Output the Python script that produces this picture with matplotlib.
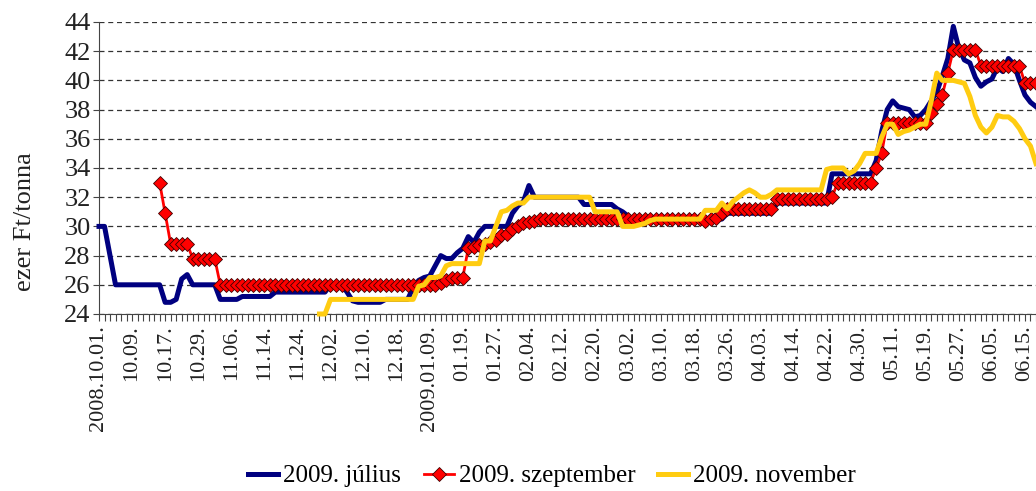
import numpy as np
import matplotlib
matplotlib.use('Agg')
import matplotlib.pyplot as plt

nan = np.nan

# =============================================================================
# Data (ezer Ft/tonna), one value per trading day from 2008.10.01.
# =============================================================================
tickLabels = ['2008.10.01.', '10.09.', '10.17.', '10.29.', '11.06.', '11.14.', '11.24.',
              '12.02.', '12.10.', '12.18.', '2009.01.09.', '01.19.', '01.27.', '02.04.',
              '02.12.', '02.20.', '03.02.', '03.10.', '03.18.', '03.26.', '04.03.',
              '04.14.', '04.22.', '04.30.', '05.11.', '05.19.', '05.27.', '06.05.', '06.15.']

julius = [30.0, 30.0, 28.0, 26.0, 26.0, 26.0, 26.0, 26.0, 26.0, 26.0,
          26.0, 26.0, 24.8, 24.8, 25.0, 26.4, 26.7, 26.0, 26.0, 26.0,
          26.0, 26.0, 25.0, 25.0, 25.0, 25.0, 25.2, 25.2, 25.2, 25.2,
          25.2, 25.2, 25.5, 25.5, 25.5, 25.5, 25.5, 25.5, 25.5, 25.5,
          25.5, 25.5, 26.0, 26.0, 26.0, 25.5, 24.9, 24.8, 24.8, 24.8,
          24.8, 24.8, 25.0, 25.0, 25.0, 25.0, 25.0, 25.8, 26.3, 26.5,
          26.6, 27.3, 28.0, 27.8, 27.8, 28.2, 28.5, 29.3, 28.9, 29.6,
          30.0, 30.0, 30.0, 30.0, 30.0, 30.9, 31.4, 31.7, 32.8, 32.0,
          32.0, 32.0, 32.0, 32.0, 32.0, 32.0, 32.0, 32.0, 31.5, 31.5,
          31.5, 31.5, 31.5, 31.5, 31.2, 31.0, 30.7, 30.5, 30.5, 30.5,
          30.5, 30.5, 30.5, 30.5, 30.5, 30.5, 30.5, 30.5, 30.5, 30.5,
          30.5, 30.5, 30.5, 30.5, 30.9, 30.9, 30.9, 30.9, 30.9, 30.9,
          30.9, 30.9, 30.9, 31.6, 31.6, 31.6, 31.6, 31.6, 31.6, 31.6,
          31.6, 31.6, 31.6, 33.6, 33.6, 33.6, 33.6, 33.6, 33.6, 33.6,
          33.6, 34.5, 36.5, 38.0, 38.6, 38.2, 38.1, 38.0, 37.5, 37.6,
          38.0, 38.6, 39.2, 40.3, 41.5, 43.7, 42.2, 41.4, 41.2, 40.2,
          39.6, 39.9, 40.1, 40.9, 40.6, 41.5, 41.1, 40.0, 39.0, 38.5,
          38.2]

szeptember = [nan, nan, nan, nan, nan, nan, nan, nan, nan, nan,
              nan, 33.0, 30.9, 28.8, 28.8, 28.8, 28.8, 27.8, 27.8, 27.8,
              27.8, 27.8, 26.0, 26.0, 26.0, 26.0, 26.0, 26.0, 26.0, 26.0,
              26.0, 26.0, 26.0, 26.0, 26.0, 26.0, 26.0, 26.0, 26.0, 26.0,
              26.0, 26.0, 26.0, 26.0, 26.0, 26.0, 26.0, 26.0, 26.0, 26.0,
              26.0, 26.0, 26.0, 26.0, 26.0, 26.0, 26.0, 26.0, 26.0, 26.0,
              26.0, 26.0, 26.1, 26.3, 26.45, 26.5, 26.5, 28.5, 28.6, 28.7,
              28.8, 28.9, 29.1, 29.4, 29.5, 29.8, 30.0, 30.2, 30.3, 30.4,
              30.5, 30.5, 30.5, 30.5, 30.5, 30.5, 30.5, 30.5, 30.5, 30.5,
              30.5, 30.5, 30.5, 30.5, 30.5, 30.5, 30.5, 30.5, 30.5, 30.5,
              30.5, 30.5, 30.5, 30.5, 30.5, 30.5, 30.5, 30.5, 30.5, 30.5,
              30.4, 30.5, 30.6, 30.9, 31.2, 31.2, 31.2, 31.2, 31.2, 31.2,
              31.2, 31.2, 31.2, 31.9, 31.9, 31.9, 31.9, 31.9, 31.9, 31.9,
              31.9, 31.9, 31.9, 32.0, 33.0, 33.0, 33.0, 33.0, 33.0, 33.0,
              33.0, 34.0, 35.0, 37.1, 37.1, 37.1, 37.1, 37.1, 37.1, 37.1,
              37.1, 37.8, 38.4, 39.0, 40.5, 42.1, 42.1, 42.1, 42.1, 42.1,
              41.0, 41.0, 41.0, 41.0, 41.0, 41.0, 41.0, 41.0, 39.8, 39.8,
              39.8]

november = [nan, nan, nan, nan, nan, nan, nan, nan, nan, nan,
            nan, nan, nan, nan, nan, nan, nan, nan, nan, nan,
            nan, nan, nan, nan, nan, nan, nan, nan, nan, nan,
            nan, nan, nan, nan, nan, nan, nan, nan, nan, nan,
            24.0, 24.0, 25.0, 25.0, 25.0, 25.0, 25.0, 25.0, 25.0, 25.0,
            25.0, 25.0, 25.0, 25.0, 25.0, 25.0, 25.0, 25.0, 25.9, 26.0,
            26.5, 26.5, 26.6, 27.3, 27.45, 27.45, 27.45, 27.45, 27.45, 27.45,
            29.0, 29.0, 30.0, 31.0, 31.1, 31.4, 31.6, 31.6, 32.0, 32.0,
            32.0, 32.0, 32.0, 32.0, 32.0, 32.0, 32.0, 32.0, 32.0, 32.0,
            31.0, 31.0, 31.0, 31.0, 31.0, 30.0, 30.0, 30.0, 30.1, 30.2,
            30.4, 30.5, 30.5, 30.5, 30.5, 30.5, 30.5, 30.5, 30.5, 30.5,
            31.1, 31.1, 31.1, 31.6, 31.2, 31.7, 32.0, 32.3, 32.5, 32.3,
            32.0, 32.0, 32.2, 32.5, 32.5, 32.5, 32.5, 32.5, 32.5, 32.5,
            32.5, 32.5, 33.9, 34.0, 34.0, 34.0, 33.6, 33.8, 34.3, 35.0,
            35.0, 35.0, 36.1, 37.0, 37.0, 36.3, 36.5, 36.6, 36.8, 37.0,
            37.0, 38.6, 40.5, 40.0, 40.0, 40.0, 39.9, 39.8, 38.9, 37.6,
            36.8, 36.4, 36.8, 37.6, 37.5, 37.5, 37.2, 36.7, 36.0, 35.5,
            34.3]

seriesNames = ['2009. július', '2009. szeptember', '2009. november']

# =============================================================================
# Plot
# =============================================================================
plt.rcParams['font.family'] = ['Liberation Serif', 'DejaVu Serif']

fig = plt.figure(figsize=(10.36, 4.91), dpi=100)
ax = fig.add_axes([99 / 1036, 1 - 314 / 491, 1 - 99 / 1036, 292 / 491])

days = np.arange(len(julius))

ax.plot(days, julius, color='#000080', lw=3.6, label=seriesNames[0],
        solid_joinstyle='round', clip_on=False, zorder=3)
ax.plot(days, szeptember, color='#FF0000', lw=2, marker='D', markersize=7.5,
        markerfacecolor='#FF0000', markeredgecolor='#400000', markeredgewidth=0.6,
        label=seriesNames[1], clip_on=False, zorder=4)
ax.plot(days, november, color='#FFCC11', lw=3.6, label=seriesNames[2],
        solid_joinstyle='round', clip_on=False, zorder=5)

ax.set_ylim(24, 44)
ax.set_xlim(0, (1036 - 99) / 5.52)
ax.set_yticks(np.arange(24, 45, 2))
ax.yaxis.grid(True, color='#333333', linestyle=(0, (4, 3)), lw=0.9)
ax.set_axisbelow(True)

ax.set_xticks(np.arange(0, 6 * len(tickLabels), 6))
ax.set_xticklabels(tickLabels, rotation=90, fontsize=16, color='#222222')
ax.set_xticks(days, minor=True)
ax.tick_params(axis='x', which='both', length=5, width=0.8, color='#444444', pad=3)
ax.tick_params(axis='y', length=4, width=0.8, color='#444444', labelsize=19,
               labelcolor='#222222', pad=2)

for side in ['top', 'right']:
    ax.spines[side].set_visible(False)
ax.spines['left'].set_color('#444444')
ax.spines['bottom'].set_color('#444444')

fig.text(25 / 1036, 1 - 222 / 491, 'ezer Ft/tonna', rotation=90, ha='center',
         va='center', fontsize=19, color='#222222')

fig.legend(loc='center', bbox_to_anchor=(552 / 1036, 1 - 476 / 491), ncol=3,
           frameon=False, fontsize=18, handlelength=1.2, handletextpad=0.2,
           columnspacing=0.9)

plt.savefig('out.png', dpi=100)
